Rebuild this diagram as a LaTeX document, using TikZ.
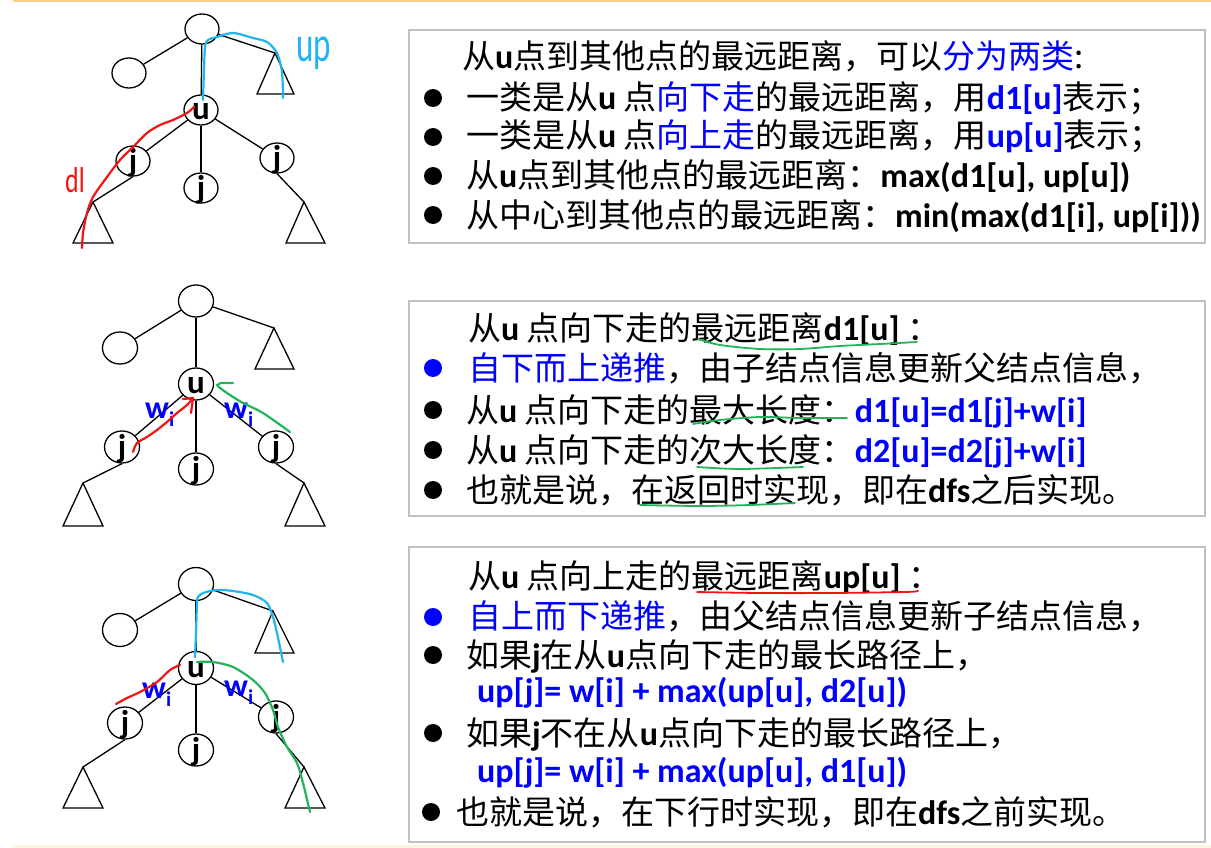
\documentclass[tikz,border=0pt]{standalone}
\usepackage{fontspec}
\usepackage{graphicx}
\usetikzlibrary{shapes.geometric}
\newfontfamily\cjk{Noto Sans CJK SC}
\newfontfamily\lat{Carlito}
\definecolor{boxgray}{HTML}{C0C0C0}
\definecolor{hblue}{HTML}{1FB5F0}
\definecolor{hred}{HTML}{F01414}
\definecolor{hgreen}{HTML}{23B45A}
\definecolor{tblue}{HTML}{0000FF}
\definecolor{topor}{HTML}{F9CC8C}
\definecolor{botyel}{HTML}{FDF4DC}
\newcommand{\B}[1]{{\fontsize{34}{36}\selectfont\lat\bfseries #1}}
\newcommand{\BB}[1]{\textcolor{tblue}{\B{#1}}}
\newcommand{\Cb}[1]{\textcolor{tblue}{#1}}
\newcommand{\wi}{{\fontsize{32}{32}\selectfont\lat\bfseries w\raisebox{-8pt}{\fontsize{21}{21}\selectfont i}}}
\begin{document}
\begin{tikzpicture}[x=1pt,y=-1pt,
 txt/.style={anchor=base west, inner sep=0pt, font=\fontsize{33}{36}\selectfont\cjk},
 panel/.style={draw=boxgray, line width=1.5pt},
 dot/.style={circle, fill=black, minimum size=18pt, inner sep=0pt},
 bdot/.style={dot, fill=tblue},
 tn/.style={draw, ellipse, line width=1.3pt, minimum width=34pt, minimum height=30pt, inner sep=0pt},
 lab/.style={font=\fontsize{33}{33}\selectfont\lat\bfseries, yshift=-2pt, inner sep=0pt},
 edge/.style={line width=1.3pt, line join=miter},
 hand/.style={line width=2.2pt, line cap=round, line join=round},
 wlab/.style={anchor=base west, inner sep=0pt, text=tblue}]
\fill[white] (0,0) rectangle (1211,848);
\useasboundingbox (0,0) rectangle (1211,848);
\fill[topor] (13,0) rectangle (1211,2.5);
\fill[botyel] (13,845) rectangle (1211,848);

% ---------- panels ----------
\draw[panel] (409,30) rectangle (1205,243);
\draw[panel] (409,301) rectangle (1205,516);
\draw[panel] (409,547) rectangle (1205,842);

% ---------- panel 1 text ----------
\node[txt] (a0) at (462,69) {从\B{u}点到其他点的最远距离，可以\Cb{分为两类}:};
\node[dot] (ad1) at (433,98) {};
\node[txt] (a1) at (466,110) {一类是从\B{u} 点\Cb{向下走}的最远距离，用\BB{d1[u]}表示；};
\node[dot] (ad2) at (433,137) {};
\node[txt] (a2) at (466,148) {一类是从\B{u} 点\Cb{向上走}的最远距离，用\BB{up[u]}表示；};
\node[dot] (ad3) at (433,176) {};
\node[txt] (a3) at (466,188) {从\B{u}点到其他点的最远距离：\B{max(d1[u], up[u])}};
\node[dot] (ad4) at (433,215) {};
\node[txt] (a4) at (466,227) {从中心到其他点的最远距离：\B{min(max(d1[i], up[i]))}};

% ---------- panel 2 text ----------
\node[txt] (b0) at (468,340) {从\B{u} 点向下走的最远距离\B{d1[u]} ：};
\node[bdot] (bd1) at (433,368) {};
\node[txt] (b1) at (468,380) {\Cb{自下而上递推}，由子结点信息更新父结点信息，};
\node[dot] (bd2) at (433,410) {};
\node[txt] (b2) at (466,422) {从\B{u} 点向下走的最大长度：\BB{d1[u]=d1[j]+w[i]}};
\node[dot] (bd3) at (433,450) {};
\node[txt] (b3) at (466,462) {从\B{u} 点向下走的次大长度：\BB{d2[u]=d2[j]+w[i]}};
\node[dot] (bd4) at (433,490) {};
\node[txt] (b4) at (466,502) {也就是说，在返回时实现，即在\B{dfs}之后实现。};
\draw[hand,hgreen,line width=1.8pt] plot[smooth] coordinates {(698,339) (720,345) (760,349) (800,349) (840,346) (880,344) (917,342)};
\draw[hand,hgreen,line width=1.8pt] plot[smooth] coordinates {(693,424) (720,420) (760,417) (800,418) (847,418)};
\draw[hand,hgreen,line width=1.8pt] plot[smooth] coordinates {(697,467) (740,469) (803,467)};
\draw[hand,hgreen,line width=1.8pt] plot[smooth] coordinates {(640,505) (700,506) (750,505) (795,503)};

% ---------- panel 3 text ----------
\node[txt] (c0) at (468,588) {从\B{u} 点向上走的最远距离\B{up[u]} ：};
\node[bdot] (cd1) at (433,617) {};
\node[txt] (c1) at (468,628) {\Cb{自上而下递推}，由父结点信息更新子结点信息，};
\node[dot] (cd2) at (433,655) {};
\node[txt] (c2) at (466,667) {如果\B{j}在从\B{u}点向下走的最长路径上，};
\node[txt] (c3) at (477,702) {\BB{up[j]= w[i] + max(up[u], d2[u])}};
\node[dot] (cd4) at (433,733) {};
\node[txt] (c4) at (466,745) {如果\B{j}不在从\B{u}点向下走的最长路径上，};
\node[txt] (c5) at (477,782) {\BB{up[j]= w[i] + max(up[u], d1[u])}};
\node[dot] (cd6) at (431,812) {};
\node[txt] (c6) at (456,824) {也就是说，在下行时实现，即在\B{dfs}之前实现。};
\draw[hand,hred,line width=1.8pt] plot[smooth] coordinates {(697,592) (760,593) (830,593) (905,592) (918,591)};

% ---------- tree 1 ----------
\node[tn] (r1) at (202,29) {};
\node[tn] (l1) at (129,73) {};
\coordinate (ta1) at (275,53);
\draw[edge] (ta1) -- (257,94) -- (294,94) -- cycle;
\node[tn, label={[lab]center:u}] (u1) at (201,110) {};
\node[tn, label={[lab]center:j}] (ja1) at (133,161) {};
\node[tn, label={[lab]center:j}] (jb1) at (201,188) {};
\node[tn, label={[lab]center:j}] (jc1) at (277,158) {};
\coordinate (tb1) at (93,202);
\coordinate (tc1) at (304,202);
\draw[edge] (tb1) -- (73,243) -- (113,243) -- cycle;
\draw[edge] (tc1) -- (286,243) -- (325,243) -- cycle;
\draw[edge] (r1) -- (l1);
\draw[edge] (r1) -- (u1);
\draw[edge] (r1) -- (ta1);
\draw[edge] (u1) -- (ja1);
\draw[edge] (u1) -- (jb1);
\draw[edge] (u1) -- (jc1);
\draw[edge] (ja1.south) -- (tb1);
\draw[edge] (jc1.south) -- (tc1);
\draw[hand,hblue] plot[smooth, tension=0.5] coordinates {(203,100) (204,70) (205,47) (208,40) (217,37) (233,33) (253,38) (267,42) (277,53) (282,72) (283,98)};
\draw[hand,hred] plot[smooth, tension=0.5] coordinates {(194,107) (187,113) (173,120) (160,125) (147,133) (133,147) (120,160) (107,177) (93,197) (87,213) (83,233) (82,248)};
\node[anchor=base west, inner sep=0pt, text=hblue, font=\fontsize{46}{46}\selectfont\lat] (uplab) at (296,62) {\scalebox{0.72}[1.1]{up}};
\node[anchor=base west, inner sep=0pt, text=hred, font=\fontsize{36}{36}\selectfont\lat] (dlab) at (65,193) {\scalebox{0.72}[1]{dl}};

% ---------- tree 2 ----------
\node[tn, minimum width=35pt, minimum height=32pt] (r2) at (196,301) {};
\node[tn, minimum width=35pt, minimum height=32pt] (l2) at (120,348) {};
\coordinate (ta2) at (274,328);
\draw[edge] (ta2) -- (255,369) -- (294,369) -- cycle;
\node[tn, minimum width=35pt, minimum height=32pt, label={[lab]center:u}] (u2) at (196,384) {};
\node[tn, minimum width=35pt, minimum height=32pt, label={[lab]center:j}] (ja2) at (122,447) {};
\node[tn, minimum width=35pt, minimum height=32pt, label={[lab]center:j}] (jb2) at (196,469) {};
\node[tn, minimum width=35pt, minimum height=32pt, label={[lab]center:j}] (jc2) at (276,447) {};
\coordinate (tb2) at (83,483);
\coordinate (tc2) at (304,483);
\draw[edge] (tb2) -- (63,526) -- (103,526) -- cycle;
\draw[edge] (tc2) -- (285,526) -- (325,526) -- cycle;
\draw[edge] (r2) -- (l2);
\draw[edge] (r2) -- (u2);
\draw[edge] (r2) -- (ta2);
\draw[edge] (u2) -- (ja2);
\draw[edge] (u2) -- (jb2);
\draw[edge] (u2) -- (jc2);
\draw[edge] (ja2.south) -- (tb2);
\draw[edge] (jc2.south) -- (tc2);
\node[wlab] (w2a) at (145,418) {\wi};
\node[wlab] (w2b) at (224,418) {\wi};
\draw[hand,hred] plot[smooth, tension=0.5] coordinates {(133,452) (137,443) (147,437) (157,430) (167,422) (177,413) (187,405) (193,398)};
\draw[hand,hred] (183,399) -- (193,398) -- (191,413);
\draw[hand,hgreen] plot[smooth, tension=0.5] coordinates {(290,432) (263,413) (243,403) (230,395) (220,388) (217,385)};
\draw[hand,hgreen] (217,385) -- (221,383) -- (233,383);

% ---------- tree 3 ----------
\node[tn, minimum width=35pt, minimum height=33pt] (r3) at (196,584) {};
\node[tn, minimum width=35pt, minimum height=33pt] (l3) at (120,630) {};
\coordinate (ta3) at (273,611);
\draw[edge] (ta3) -- (255,653) -- (294,653) -- cycle;
\node[tn, minimum width=35pt, minimum height=33pt, label={[lab]center:u}] (u3) at (196,668) {};
\node[tn, minimum width=35pt, minimum height=32pt, label={[lab]center:j}] (ja3) at (125,723) {};
\node[tn, minimum width=35pt, minimum height=32pt, label={[lab]center:j}] (jb3) at (196,750) {};
\node[tn, minimum width=35pt, minimum height=32pt, label={[lab]center:j}] (jc3) at (276,717) {};
\coordinate (tb3) at (83,767);
\coordinate (tc3) at (304,767);
\draw[edge] (tb3) -- (63,808) -- (103,808) -- cycle;
\draw[edge] (tc3) -- (285,808) -- (325,808) -- cycle;
\draw[edge] (r3) -- (l3);
\draw[edge] (r3) -- (u3);
\draw[edge] (r3) -- (ta3);
\draw[edge] (u3) -- (ja3);
\draw[edge] (u3) -- (jb3);
\draw[edge] (u3) -- (jc3);
\draw[edge] (ja3.south) -- (tb3);
\draw[edge] (jc3.south) -- (tc3);
\node[wlab] (w3a) at (142,698) {\wi};
\node[wlab] (w3b) at (224,696) {\wi};
\draw[hand,hblue] plot[smooth, tension=0.5] coordinates {(195,657) (196,633) (197,603) (198,597) (203,593) (217,590) (233,591) (253,595) (267,603) (273,617) (277,633) (283,662)};
\draw[hand,hred] plot[smooth, tension=0.5] coordinates {(116,704) (127,698) (140,692) (157,682) (170,670) (180,665)};
\draw[hand,hgreen] plot[smooth, tension=0.5] coordinates {(197,662) (213,662) (233,667) (253,680) (265,693) (273,710) (278,727) (287,747) (297,763) (303,783) (310,812)};
\end{tikzpicture}
\end{document}
